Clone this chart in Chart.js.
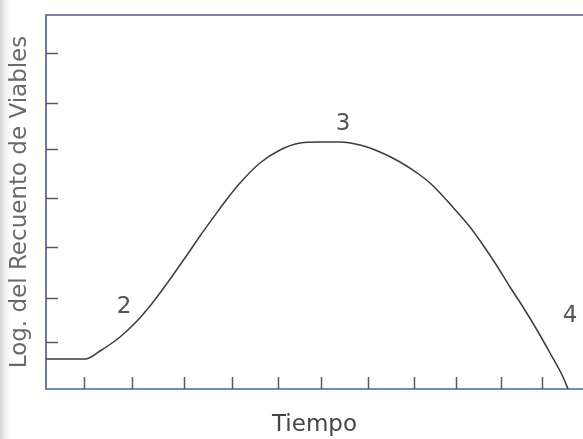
<!DOCTYPE html>
<html>
<head>
<meta charset="utf-8">
<script src="https://cdn.jsdelivr.net/npm/chart.js@4"></script>
<style>
  html, body { margin: 0; padding: 0; }
  body { background: linear-gradient(to right, #d6d6d6 0px, #f2f2f2 6px, #ffffff 12px); }
  #growthChart { display: block; }
</style>
</head>
<body>
<canvas id="growthChart" width="583" height="439"></canvas>
<script>
// curva de crecimiento (unidades arbitrarias)
var tiempo = [0, 3.9, 5.4, 7.4, 9.1, 10.4, 11.4, 12.7, 14.1, 15.4, 16.7, 18.1, 19.4, 21.4, 23.4, 25.4, 27.4, 29.4, 31.4, 33.4, 35.4, 37.4, 38.4, 39.4, 40.4, 42.4, 43.7, 45.1, 46.4, 47.7, 49.1, 50.4, 51.7, 52.2];
var logViables = [3.0, 3.0, 3.8, 5.2, 6.8, 8.3, 9.6, 11.4, 13.4, 15.3, 17.1, 19.0, 20.6, 22.6, 23.9, 24.6, 24.7, 24.7, 24.4, 23.7, 22.7, 21.4, 20.6, 19.6, 18.5, 16.2, 14.4, 12.3, 10.2, 8.2, 5.9, 3.6, 1.2, 0];

var tiempoTicks = [3.8, 8.6, 13.8, 18.6, 23.2, 27.5, 32.2, 36.8, 41.0, 45.5, 49.6];
var viablesTicks = [4.7, 9.1, 14.2, 19.1, 24.0, 28.6, 33.6];

var faseLabels = ['2', '3', '4'];
var faseX = [7.8, 29.7, 52.4];
var faseY = [8.2, 26.5, 7.3];

var puntos = tiempo.map(function (t, i) {
    return { x: t, y: logViables[i] };
});

var fontFamily = '"DejaVu Sans", sans-serif';

// marcas de los ejes hacia adentro y numeros de las fases
var marcasPlugin = {
    id: 'marcas',
    afterDraw: function (chart) {
        var ctx = chart.ctx;
        var xs = chart.scales.x;
        var ys = chart.scales.y;
        var area = chart.chartArea;
        ctx.save();
        ctx.strokeStyle = '#555a66';
        ctx.lineWidth = 1.5;
        tiempoTicks.forEach(function (t) {
            var px = Math.round(xs.getPixelForValue(t)) + 0.5;
            ctx.beginPath();
            ctx.moveTo(px, area.bottom);
            ctx.lineTo(px, area.bottom - 12);
            ctx.stroke();
        });
        viablesTicks.forEach(function (v) {
            var py = Math.round(ys.getPixelForValue(v)) + 0.5;
            ctx.beginPath();
            ctx.moveTo(area.left, py);
            ctx.lineTo(area.left + 12, py);
            ctx.stroke();
        });
        ctx.fillStyle = '#555555';
        ctx.font = '23px ' + fontFamily;
        ctx.textAlign = 'center';
        ctx.textBaseline = 'middle';
        faseLabels.forEach(function (lab, i) {
            ctx.fillText(lab, xs.getPixelForValue(faseX[i]), ys.getPixelForValue(faseY[i]));
        });
        ctx.restore();
    }
};

var data = {
    datasets: [{
        label: 'Log. del Recuento de Viables',
        data: puntos,
        borderColor: '#3c3c3c',
        borderWidth: 1.5,
        pointRadius: 0,
        cubicInterpolationMode: 'monotone',
        fill: false,
    }]
};

var config = {
    type: 'line',
    data: data,
    options: {
        responsive: false,
        animation: false,
        layout: { padding: 0 },
        plugins: {
            legend: { display: false },
            tooltip: { enabled: false },
        },
        scales: {
            x: {
                type: 'linear',
                position: 'bottom',
                min: 0,
                max: 53.7,
                grid: { display: false },
                border: { display: true, color: '#6f8cbc', width: 2 },
                ticks: { display: false },
                title: {
                    display: true,
                    text: 'Tiempo',
                    color: '#444444',
                    font: { family: fontFamily, size: 23 },
                    padding: { top: 0, bottom: 0 },
                },
                afterFit: function (scale) { scale.height = 50; },
            },
            xTop: {
                type: 'linear',
                position: 'top',
                min: 0,
                max: 53.7,
                grid: { display: false },
                border: { display: true, color: '#7b7fa6', width: 2 },
                ticks: { display: false },
                afterFit: function (scale) { scale.height = 15; },
            },
            y: {
                type: 'linear',
                min: 0,
                max: 37.4,
                grid: { display: false },
                border: { display: true, color: '#6f7896', width: 2 },
                ticks: { display: false },
                title: {
                    display: true,
                    text: 'Log. del Recuento de Viables',
                    color: '#6a6a6a',
                    font: { family: fontFamily, size: 23 },
                    padding: { top: 6, bottom: 0 },
                },
                afterFit: function (scale) { scale.width = 46; },
            },
        },
    },
    plugins: [marcasPlugin],
};

var growthChart = new Chart(
    document.getElementById('growthChart'),
    config,
);
</script>
</body>
</html>
